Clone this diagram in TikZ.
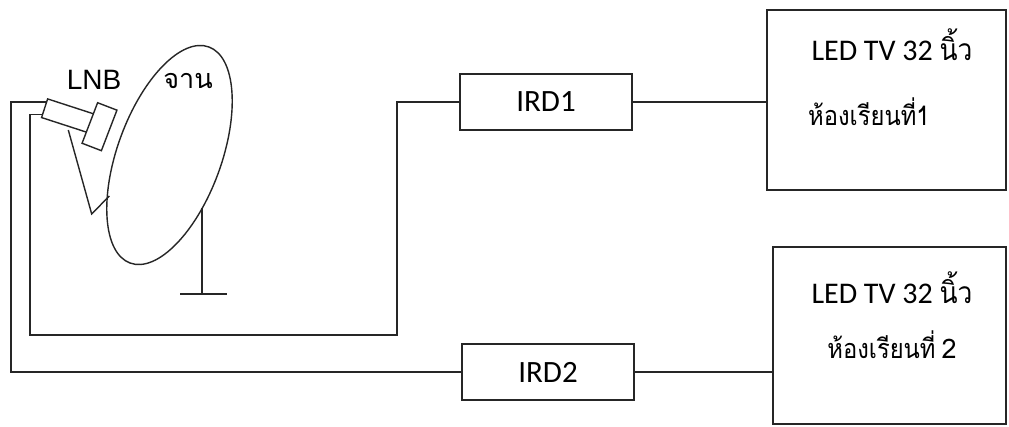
\documentclass[tikz,border=0pt]{standalone}
\usepackage{fontspec}
\setmainfont{Carlito}
\newfontfamily\thaifont[Script=Thai]{Loma}
\newfontfamily\thainarrow[Script=Thai,FakeStretch=0.88]{Loma}
\newfontfamily\lnbfont{Liberation Sans}
\usetikzlibrary{calc,shapes.geometric}
\begin{document}
\begin{tikzpicture}[x=1pt,y=1pt,
  ln/.style={line width=1.4pt, draw=black!85, line join=miter},
  box/.style={ln, rectangle, inner sep=0pt, fill=white},
  irdbox/.style={box, minimum width=172pt, minimum height=56pt, font=\fontsize{31}{34}\selectfont},
  tvbox/.style={box, minimum width=239pt},
  tvtitle/.style={anchor=base, inner sep=0pt, font=\fontsize{30}{34}\selectfont},
  tvroom/.style={anchor=base, inner sep=0pt, font=\thainarrow\fontsize{27}{32}\selectfont},
  smalllabel/.style={inner sep=0pt}]
\useasboundingbox (0,0) rectangle (1009,-426);
\fill[white] (0,0) rectangle (1009,-426);

% dish
\node[ln, ellipse, inner sep=0pt, minimum width=104pt, minimum height=230pt, rotate=-20] (dish) at (169.5,-155) {};
\coordinate (standtop) at (202,-208);
\coordinate (standbot) at (202,-294);
\coordinate (baseL) at (180,-294);
\coordinate (baseR) at (227,-294);
\draw[ln] (standtop) -- (standbot);
\draw[ln] (baseL) -- (baseR);

% support arm
\coordinate (armA) at (68.3,-130);
\coordinate (armB) at (91.7,-214);
\coordinate (armC) at (109.3,-196);
\draw[ln] (armA) -- (armB) -- (armC);

% LNB
\node[box, minimum width=49pt, minimum height=19.6pt, rotate=-18] (lnb) at (67.9,-115.8) {};
\node[box, minimum width=20.7pt, minimum height=43.4pt, rotate=-21] (feed) at (99.5,-126.7) {};

\node[smalllabel, font=\lnbfont\fontsize{28}{30}\selectfont] (lnblabel) at (94,-80) {LNB};
\node[smalllabel, font=\thaifont\fontsize{27}{30}\selectfont] (dishlabel) at (188,-81) {จาน};

% receivers
\node[irdbox] (ird1) at (546,-102) {IRD1};
\node[irdbox] (ird2) at (548,-372) {IRD2};

% TVs
\node[tvbox, minimum height=180pt] (tv1) at (886.5,-100) {};
\node[tvbox, minimum width=233pt, minimum height=177pt] (tv2) at (889.5,-335.5) {};
\node[tvtitle] (tv1a) at (892,-60) {LED TV 32 {\thainarrow นิ้ว}};
\node[tvroom, anchor=base west] (tv1b) at (808,-125) {ห้องเรียนที่1};
\node[tvtitle] (tv2a) at (892,-303) {LED TV 32 {\thainarrow นิ้ว}};
\node[tvroom] (tv2b) at (892,-358) {ห้องเรียนที่\hspace{6pt}{\thaifont 2}};

% cables
\coordinate (p1) at ($(lnb.north west)!0.2!(lnb.south west)$);
\coordinate (p2) at ($(lnb.north west)!0.83!(lnb.south west)$);
\coordinate (outerx) at (11,0);
\coordinate (ib) at (30,-335);
\coordinate (jb) at (397,-335);
\draw[ln] (p1) -| (outerx |- ird2.west) -- (ird2.west);
\draw[ln] (p2) -| (ib) -- (jb) |- (ird1.west);
\draw[ln] (ird1.east) -- (ird1.east -| tv1.west);
\draw[ln] (ird2.east) -- (ird2.east -| tv2.west);
\end{tikzpicture}
\end{document}
